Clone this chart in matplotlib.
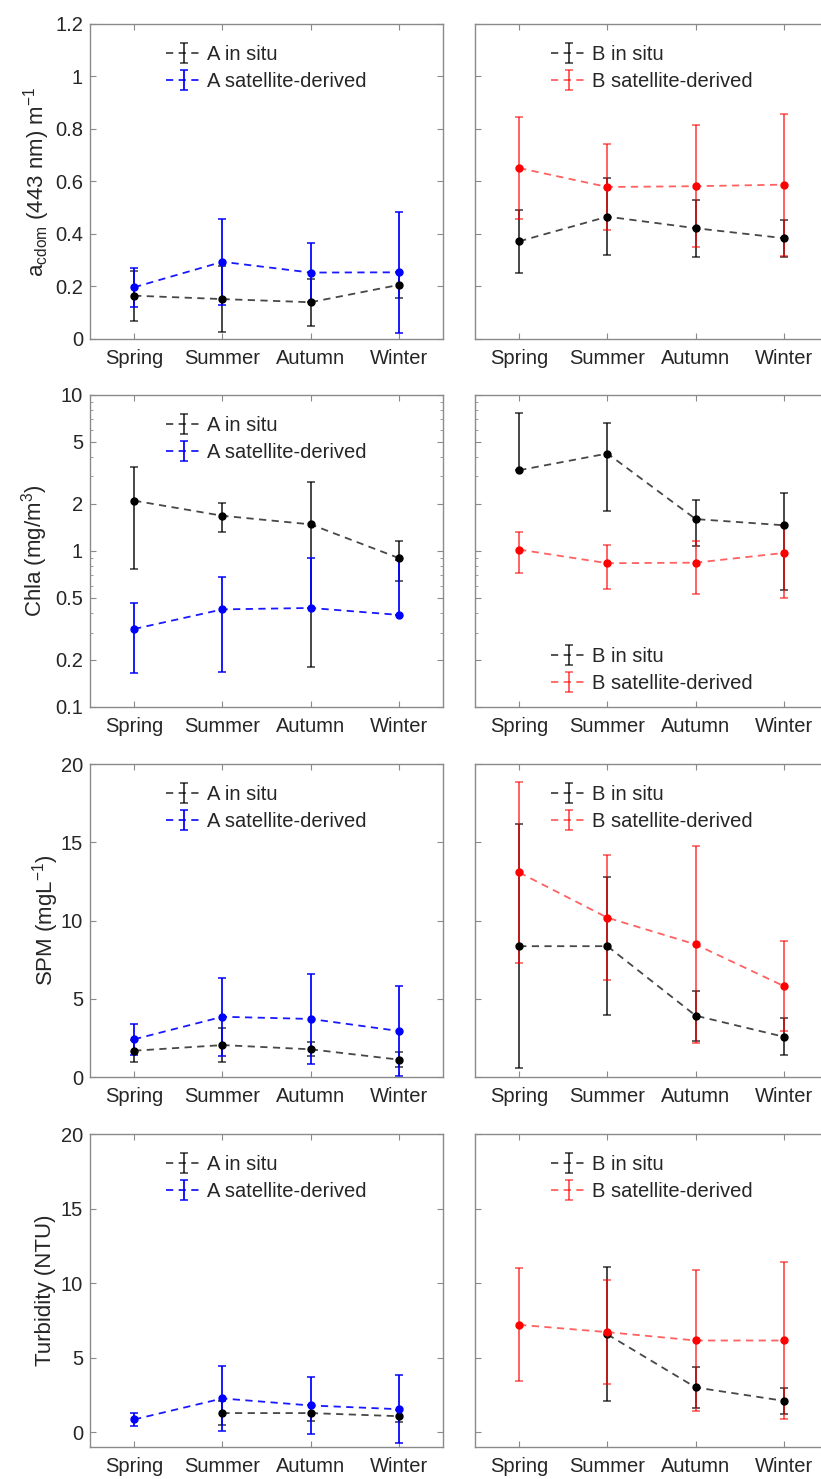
import numpy as np
import matplotlib
matplotlib.use('Agg')
import matplotlib.pyplot as plt
from matplotlib.ticker import FixedLocator, NullFormatter

plt.rcParams['font.family'] = ['Liberation Sans', 'DejaVu Sans']
plt.rcParams['mathtext.fontset'] = 'custom'
plt.rcParams['mathtext.rm'] = 'Liberation Sans'
plt.rcParams['mathtext.it'] = 'Liberation Sans:italic'

# seasons on the x axis
seasons = ['Spring', 'Summer', 'Autumn', 'Winter']
nan = np.nan

# a_cdom(443) m^-1
acdom_a_insitu = [0.165, 0.152, 0.140, 0.206]
acdom_a_insitu_err = [0.095, 0.125, 0.090, 0.050]
acdom_a_sat = [0.197, 0.294, 0.253, 0.254]
acdom_a_sat_err = [0.075, 0.163, 0.113, 0.230]
acdom_b_insitu = [0.372, 0.466, 0.422, 0.384]
acdom_b_insitu_err = [0.120, 0.146, 0.108, 0.071]
acdom_b_sat = [0.651, 0.579, 0.582, 0.588]
acdom_b_sat_err = [0.195, 0.165, 0.233, 0.270]

# Chla (mg/m3), log axis
chla_a_insitu = [2.10, 1.68, 1.48, 0.90]
chla_a_insitu_err = [1.33, 0.35, 1.30, 0.26]
chla_a_sat = [0.316, 0.422, 0.431, 0.389]
chla_a_sat_err = [0.15, 0.255, 0.475, 0.486]
chla_b_insitu = [3.29, 4.21, 1.60, 1.46]
chla_b_insitu_err = [4.35, 2.40, 0.52, 0.90]
chla_b_sat = [1.02, 0.834, 0.841, 0.971]
chla_b_sat_err = [0.30, 0.265, 0.31, 0.47]

# SPM (mg/L)
spm_a_insitu = [1.68, 2.04, 1.77, 1.11]
spm_a_insitu_err = [0.70, 1.07, 0.45, 0.48]
spm_a_sat = [2.41, 3.85, 3.71, 2.94]
spm_a_sat_err = [1.0, 2.5, 2.85, 2.9]
spm_b_insitu = [8.36, 8.36, 3.92, 2.57]
spm_b_insitu_err = [7.8, 4.4, 1.6, 1.17]
spm_b_sat = [13.07, 10.18, 8.47, 5.81]
spm_b_sat_err = [5.8, 4.0, 6.3, 2.85]

# Turbidity (NTU)
turb_a_insitu = [nan, 1.28, 1.28, 1.07]
turb_a_insitu_err = [nan, 0.82, 0.52, 0.40]
turb_a_sat = [0.85, 2.26, 1.79, 1.54]
turb_a_sat_err = [0.45, 2.17, 1.9, 2.27]
turb_b_insitu = [nan, 6.56, 3.0, 2.1]
turb_b_insitu_err = [nan, 4.5, 1.37, 0.85]
turb_b_sat = [7.2, 6.71, 6.15, 6.15]
turb_b_sat_err = [3.8, 3.5, 4.7, 5.3]

BLACK = (0, 0, 0, 0.72)
BLUE = (0, 0, 1, 0.9)
RED = (1, 0, 0, 0.62)
SPINE = '#8a8a8a'
TEXT = '#262626'
FS = 14.5

fig = plt.figure(figsize=(8.21, 14.79), dpi=100)

row_boxes = [(0.7708, 0.2130), (0.5220, 0.2110), (0.2718, 0.2116), (0.0216, 0.2116)]
left_x, right_x, ax_w = 0.1096, 0.5786, 0.430


def draw_series(ax, y, err, col, solid, log):
    y = np.asarray(y, float)
    err = np.asarray(err, float)
    lower = err.copy()
    if log:
        # like MATLAB: lower half of the bar is dropped when it goes below zero
        lower[y - err <= 0] = 0
    x = np.arange(1, len(y) + 1)
    ax.errorbar(x, y, yerr=[lower, err], fmt='o', ls=(0, (4, 3)), lw=1.3,
                color=col, ecolor=col, elinewidth=1.4, capsize=3, capthick=1.2,
                ms=5, mfc=solid, mec=solid)


def proxy(ax, col):
    return ax.errorbar([nan], [nan], yerr=[1], fmt='', ls=(0, (4, 3)), lw=1.3,
                       color=col, ecolor=col, elinewidth=1.4, capsize=3, capthick=1.2)


def panel(ax, site, insitu, insitu_err, sat, sat_err, col, solid, log=False, leg_loc='upper center'):
    draw_series(ax, insitu, insitu_err, BLACK, 'black', log)
    draw_series(ax, sat, sat_err, col, solid, log)
    h1 = proxy(ax, BLACK)
    h2 = proxy(ax, col)
    pad = 0.65 if leg_loc.startswith('upper') else 0.3
    ax.legend([h1, h2], [site + ' in situ', site + ' satellite-derived'], loc=leg_loc,
              frameon=False, fontsize=FS, handlelength=1.8, handletextpad=0.25,
              labelspacing=0.38, borderaxespad=pad, labelcolor=TEXT)
    ax.set_xlim(0.5, 4.5)
    ax.set_xticks(np.arange(1, 5))
    ax.set_xticklabels(seasons)
    for s in ax.spines.values():
        s.set_color(SPINE)
        s.set_linewidth(1.0)
    ax.tick_params(direction='in', length=4, width=0.8, top=True, right=True,
                   colors=SPINE, labelcolor=TEXT, labelsize=FS)
    ax.tick_params(axis='x', pad=7)
    ax.tick_params(axis='y', pad=5)
    ax.tick_params(which='minor', direction='in', length=2.5, width=0.6, right=True, colors=SPINE)


rows = [
    ('acdom', [0, 1.2], np.arange(0, 1.21, 0.2), ['0', '0.2', '0.4', '0.6', '0.8', '1', '1.2'],
     r'a$_{\mathregular{cdom}}$ (443 nm) m$^{\mathregular{-1}}$', -0.108, False,
     (acdom_a_insitu, acdom_a_insitu_err, acdom_a_sat, acdom_a_sat_err),
     (acdom_b_insitu, acdom_b_insitu_err, acdom_b_sat, acdom_b_sat_err), 'upper center'),
    ('chla', [0.1, 10], [0.1, 0.2, 0.5, 1, 2, 5, 10], ['0.1', '0.2', '0.5', '1', '2', '5', '10'],
     r'Chla (mg/m$^{\mathregular{3}}$)', -0.113, True,
     (chla_a_insitu, chla_a_insitu_err, chla_a_sat, chla_a_sat_err),
     (chla_b_insitu, chla_b_insitu_err, chla_b_sat, chla_b_sat_err), 'lower center'),
    ('spm', [0, 20], [0, 5, 10, 15, 20], ['0', '5', '10', '15', '20'],
     r'SPM (mgL$^{\mathregular{-1}}$)', -0.083, False,
     (spm_a_insitu, spm_a_insitu_err, spm_a_sat, spm_a_sat_err),
     (spm_b_insitu, spm_b_insitu_err, spm_b_sat, spm_b_sat_err), 'upper center'),
    ('turb', [-1, 20], [0, 5, 10, 15, 20], ['0', '5', '10', '15', '20'],
     'Turbidity (NTU)', -0.097, False,
     (turb_a_insitu, turb_a_insitu_err, turb_a_sat, turb_a_sat_err),
     (turb_b_insitu, turb_b_insitu_err, turb_b_sat, turb_b_sat_err), 'upper center'),
]

for (name, ylim, yt, ytl, ylab, labx, log, a_data, b_data, b_loc), (y0, h) in zip(rows, row_boxes):
    axl = fig.add_axes([left_x, y0, ax_w, h])
    axr = fig.add_axes([right_x, y0, ax_w, h])
    for ax in (axl, axr):
        if log:
            ax.set_yscale('log')
    panel(axl, 'A', *a_data, BLUE, 'blue', log=log)
    panel(axr, 'B', *b_data, RED, 'red', log=log, leg_loc=b_loc)
    for ax in (axl, axr):
        ax.set_ylim(*ylim)
        ax.set_yticks(yt)
        if log:
            minors = [v * m for v in (0.1, 1) for m in range(2, 10) if m not in (2, 5)]
            ax.yaxis.set_minor_locator(FixedLocator(minors))
            ax.yaxis.set_minor_formatter(NullFormatter())
    axl.set_yticklabels(ytl)
    axr.set_yticklabels([])
    axl.set_ylabel(ylab, fontsize=16, color=TEXT)
    axl.yaxis.set_label_coords(labx, 0.5)

fig.savefig('out.png', dpi=100)
